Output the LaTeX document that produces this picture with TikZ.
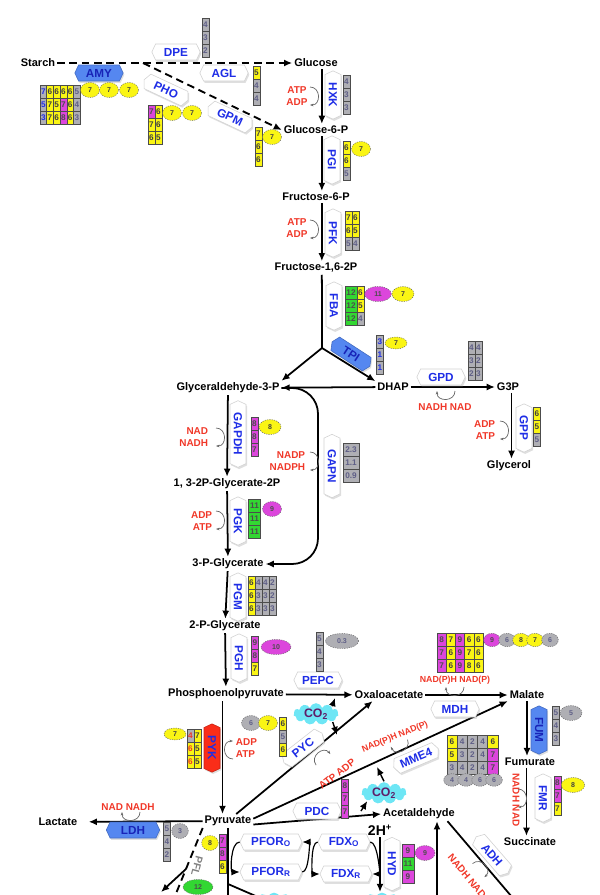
\documentclass[tikz,border=0pt]{standalone}
\usepackage{fontspec}
\setmainfont{Liberation Sans}
\usetikzlibrary{shapes.symbols,shapes.geometric,shadows,calc,arrows.meta}

\definecolor{enzblue}{RGB}{30,45,230}
\definecolor{cofred}{RGB}{240,55,40}
\definecolor{celly}{RGB}{250,245,20}
\definecolor{cellg}{RGB}{175,175,180}
\definecolor{cellm}{RGB}{220,70,220}
\definecolor{celln}{RGB}{50,215,50}
\definecolor{gtxt}{RGB}{95,95,135}
\definecolor{amyblue}{RGB}{85,135,240}
\definecolor{pykred}{RGB}{250,45,25}
\definecolor{co2cyan}{RGB}{110,230,245}
\definecolor{co2txt}{RGB}{95,30,105}

\newcommand{\numtab}[5]{%
	\foreach \rw [count=\ri] in {#5}
		\foreach \cv/\ct [count=\ci] in \rw
			\node[cell, \cv, minimum width=#4*0.03cm] (#1-\ri-\ci) at ({#2+(\ci-1)*#4}, {#3+(\ri-1)*13}) {\ct};
}

\begin{document}
\begin{tikzpicture}[x=0.03cm, y=-0.03cm, every node/.style={font=\bfseries}, line width=1.5pt, >={Latex[length=7pt,width=6pt]}]
	\tikzstyle{met} = [font=\bfseries\fontsize{9.4}{11}\selectfont, inner sep=1pt]
	\tikzstyle{enz} = [signal, signal to=east and west, signal pointer angle=130, draw=gray!35, line width=0.5pt, fill=white, drop shadow={opacity=0.25, shadow xshift=1pt, shadow yshift=-1.5pt}, text=enzblue, font=\bfseries\fontsize{10}{10}\selectfont, minimum width=1.45cm, minimum height=0.48cm, inner sep=1pt]
	\tikzstyle{enzb} = [fill=amyblue, draw=amyblue!80!black, text=enzblue!80!black]
	\tikzstyle{enzr} = [fill=pykred, draw=pykred!80!black, text=enzblue]
	\tikzstyle{cof} = [text=cofred, font=\bfseries\fontsize{8.5}{10}\selectfont, align=center, inner sep=0pt]
	\tikzstyle{cell} = [rectangle, draw=black!70, line width=0.4pt, minimum height=0.39cm, inner sep=0pt, font=\bfseries\fontsize{7}{7}\selectfont]
	\tikzstyle{cyel} = [fill=celly, text=black!75]
	\tikzstyle{cgry} = [fill=cellg, text=gtxt]
	\tikzstyle{cmag} = [fill=cellm, text=black!70]
	\tikzstyle{cgrn} = [fill=celln, text=black!70]
	\tikzstyle{cgbl} = [fill=cellg, text=enzblue]
	\tikzstyle{cgrd} = [fill=cellg, text=cofred]
	\tikzstyle{cyrd} = [fill=celly, text=cofred]
	\tikzstyle{ell} = [ellipse, draw=black!60, line width=0.4pt, dash pattern=on 1pt off 1pt, minimum width=0.57cm, minimum height=0.45cm, inner sep=0pt, font=\bfseries\fontsize{6}{6}\selectfont]
	\tikzstyle{co2} = [cloud, cloud puffs=11, aspect=2.3, fill=co2cyan, text=co2txt, font=\bfseries\fontsize{10.5}{10.5}\selectfont, inner sep=0pt, minimum width=1.35cm, minimum height=0.62cm]
	\tikzstyle{rxn} = [->, line width=1.5pt]
	\tikzstyle{dsh} = [->, line width=1.6pt, dash pattern=on 6.5pt off 4pt]
	\tikzstyle{sarr} = [->, line width=1.2pt]
	\tikzstyle{curlarr} = [->, line width=1pt]
	\tikzset{curl/.pic={\draw[gray!80!black, line width=0.6pt, -{Stealth[length=3pt]}] (-2,-9) .. controls (9,-9) and (9,9) .. (-2,9);}}

	\useasboundingbox (0,0) rectangle (600,895);
	\clip (0,0) rectangle (600,895);

	% metabolites
	\node[met] (starch) at (38,63) {Starch};
	\node[met] (glc) at (316,63) {Glucose};
	\node[met] (g6p) at (316,130) {Glucose-6-P};
	\node[met] (f6p) at (316,197) {Fructose-6-P};
	\node[met] (fbp) at (316,268) {Fructose-1,6-2P};
	\node[met] (gap) at (228,388) {Glyceraldehyde-3-P};
	\node[met] (dhap) at (393,387) {DHAP};
	\node[met] (g3p) at (508,387) {G3P};
	\node[met] (glyc) at (509,466) {Glycerol};
	\node[met] (bpg) at (227,484) {1, 3-2P-Glycerate-2P};
	\node[met] (pg3) at (228,564) {3-P-Glycerate};
	\node[met] (pg2) at (225,626) {2-P-Glycerate};
	\node[met] (pep) at (226,694) {Phosphoenolpyruvate};
	\node[met] (oaa) at (389,695) {Oxaloacetate};
	\node[met] (mal) at (527,695) {Malate};
	\node[met] (fum) at (530,762) {Fumurate};
	\node[met] (suc) at (530,842) {Succinate};
	\node[met] (pyr) at (228,821) {Pyruvate};
	\node[met] (lac) at (58,822) {Lactate};
	\node[met] (acald) at (419,814) {Acetaldehyde};
	\node[met, font=\bfseries\fontsize{12}{12}\selectfont] (htwo) at (380,830) {2H\textsuperscript{+}};

	\coordinate (brk) at (143,63);
	\coordinate (fbaj) at (322,348);
	\coordinate (gapnc) at (318,480);
	\coordinate (pepcl) at (335,698);
	\coordinate (pycl) at (337,735);
	\coordinate (mmel) at (377,767);
	\coordinate (pdcl) at (361,811);
	\coordinate (pyrend) at (228,896);
	\coordinate (pyrb) at (228,884);
	\coordinate (pyrc) at (258,897);
	\coordinate (hydend) at (380,892);
	\coordinate (acin) at (437,896);
	\coordinate (adhend) at (512,897);
	\coordinate (pflend) at (175,896);
	\coordinate (pflm) at (186,869);
	\coordinate (pflt) at (161,892);

	% reactions
	\draw[dsh] (starch) -- (glc);
	\draw[dsh] (brk) -- (g6p.west);
	\draw[rxn] ([xshift=5pt]glc.south) -- ([xshift=5pt]g6p.north);
	\draw[rxn] ([xshift=5pt]g6p.south) -- ([xshift=5pt]f6p.north);
	\draw[rxn] ([xshift=5pt]f6p.south) -- ([xshift=5pt]fbp.north);
	\draw ([xshift=5pt]fbp.south) -- (fbaj);
	\draw[rxn] (fbaj) -- (gap.north east);
	\draw[rxn] (fbaj) -- (dhap.north west);
	\draw[rxn] (dhap) -- (gap);
	\draw[rxn] (dhap) -- (g3p);
	\draw[rxn] ([xshift=3pt]g3p.south) -- ([xshift=3pt]g3p.south |- glyc.north);
	\draw[rxn] (gap) -- (bpg);
	\draw[rxn, rounded corners=22pt] (gap.east) -| (gapnc) |- (pg3.east);
	\draw[rxn] (bpg) -- (pg3);
	\draw[rxn] (pg3) -- (pg2);
	\draw[rxn] (pg2) -- (pep);
	\draw[rxn] (pep) -- (oaa);
	\draw[rxn] (oaa) -- (mal);
	\draw[rxn] ([xshift=-3pt]pep.south) -- ([xshift=-3pt]pep.south |- pyr.north);
	\draw[rxn] ([xshift=7pt]pyr.north) -- ([xshift=-14pt]oaa.south);
	\draw[rxn] ([yshift=2pt]pyr.east) -- (mal.south west);
	\draw[rxn] ([yshift=-3pt]pyr.east) -- (acald.west);
	\draw[rxn, shorten >=8pt] (pyr) -- (lac);
	\draw[dsh, -] (pyr.south west) -- (pflend);
	\draw[rxn] (pflm) -- (pflt);
	\draw (pyr.south) -- (pyrend);
	\draw (pyrb) -- (pyrc);
	\draw[rxn] (htwo) -- (hydend);
	\draw[rxn] (acin) -- (acin |- acald.south);
	\draw ([xshift=-8pt]acald.south east) -- (adhend);
	\draw[rxn] (mal.south) -- (mal.south |- fum.north);
	\draw[rxn] ([xshift=-3pt]fum.south) -- ([xshift=-3pt]suc.north);

	\node[co2] (co2a) at (316,714) {CO\textsubscript{2}};
	\node[co2] (co2b) at (384,793) {CO\textsubscript{2}};
	\node[co2] (co2c) at (274,903) {};
	\node[co2] (htwoc) at (382,903) {};
	\draw[sarr] (co2a.north east) -- (pepcl);
	\draw[sarr] (co2a.south east) -- (pycl);
	\draw[sarr] (co2b.north) -- (mmel);
	\draw[sarr] (pdcl) -- (co2b.south west);

	% enzymes
	\node[enz] (dpe) at (176,52) {DPE};
	\node[enz, enzb] (amy) at (99,73) {AMY};
	\node[enz] (agl) at (224,73) {AGL};
	\node[enz, rotate=-25] (pho) at (166,90) {PHO};
	\node[enz, rotate=-25] (gpm) at (230,117) {GPM};
	\node[enz, rotate=-90] (hxk) at (333,95) {HXK};
	\node[enz, rotate=-90] (pgi) at (332,160) {PGI};
	\node[enz, rotate=-90] (pfk) at (333,233) {PFK};
	\node[enz, rotate=-90] (fba) at (334,306) {FBA};
	\node[enz, enzb, rotate=-33, minimum width=1.35cm] (tpi) at (351,354) {TPI};
	\node[enz] (gpd) at (441,377) {GPD};
	\node[enz, rotate=-90] (gpp) at (524,428) {GPP};
	\node[enz, rotate=-90, minimum width=2cm] (gapdh) at (238,434) {GAPDH};
	\node[enz, rotate=-90, minimum width=1.9cm] (gapn) at (332,466) {GAPN};
	\node[enz, rotate=-90] (pgk) at (238,521) {PGK};
	\node[enz, rotate=-90] (pgm) at (238,597) {PGM};
	\node[enz, rotate=-90] (pgh) at (239,658) {PGH};
	\node[enz] (pepc) at (318,680) {PEPC};
	\node[enz] (mdh) at (455,709) {MDH};
	\node[enz, enzb, rotate=-90] (fumz) at (539,730) {FUM};
	\node[enz, enzr, rotate=-90] (pyk) at (212,748) {PYK};
	\node[enz, rotate=38] (pyc) at (303,748) {PYC};
	\node[enz, rotate=23] (mme) at (416,758) {MME4};
	\node[enz] (pdc) at (317,811) {PDC};
	\node[enz, enzb, minimum width=1.6cm] (ldh) at (133,830) {LDH};
	\node[enz, minimum width=1.86cm] (pforo) at (271,842) {PFOR\textsubscript{O}};
	\node[enz, minimum width=1.86cm] (pforr) at (271,872) {PFOR\textsubscript{R}};
	\node[enz, minimum width=1.56cm] (fdxo) at (344,842) {FDX\textsubscript{O}};
	\node[enz, minimum width=1.56cm] (fdxr) at (346,874) {FDX\textsubscript{R}};
	\node[enz, rotate=-90, minimum width=1.6cm] (hyd) at (392,864) {HYD};
	\node[enz, rotate=-49] (adh) at (492,855) {ADH};
	\node[enz, rotate=-90] (fmr) at (543,798) {FMR};
	\node[text=gray, font=\bfseries\fontsize{9}{9}\selectfont, rotate=-105] (pfl) at (197,866) {PFL};

	\draw[curlarr] (pforo.west) to[out=180, in=180, looseness=0.8] (pforr.west);
	\draw[curlarr] (pforr.east) to[out=0, in=0, looseness=0.6] (pforo.east);
	\draw[curlarr] (fdxo.west) to[out=180, in=180, looseness=0.6] (fdxr.west);
	\draw[curlarr] (fdxo.east) to[out=0, in=0, looseness=0.6] (fdxr.east);

	% cofactors
	\node[cof] (hxkc) at (297,96) {ATP\\ADP};
	\node[cof] (pfkc) at (297,228) {ATP\\ADP};
	\node[cof, align=right, anchor=east] (gapdhc) at (209,437) {NAD\\NADH};
	\node[cof, align=right, anchor=east] (gapnk) at (306,461) {NADP\\NADPH};
	\node[cof, align=right, anchor=east] (pgkc) at (213,521) {ADP\\ATP};
	\node[cof, align=right, anchor=east] (gppc) at (496,430) {ADP\\ATP};
	\node[cof] (gpdc) at (445,407) {NADH NAD};
	\node[cof, align=left, anchor=west] (pykc) at (235,748) {ADP\\ATP};
	\node[cof, rotate=38] (pycc) at (337,774) {ATP ADP};
	\node[cof, font=\bfseries\fontsize{7.5}{8}\selectfont] (mdhc) at (455,680) {NAD(P)H NAD(P)};
	\node[cof, font=\bfseries\fontsize{7.5}{8}\selectfont, rotate=22] (mmec) at (395,737) {NAD(P)H NAD(P)};
	\node[cof] (ldhc) at (128,807) {NAD NADH};
	\node[cof, rotate=-90] (fmrc) at (516,800) {NADH NAD};
	\node[cof, rotate=-50] (adhc) at (467,876) {NADH NAD};

	\pic at (312,96) {curl};
	\pic at (312,229) {curl};
	\pic at (218,437) {curl};
	\pic at (312,461) {curl};
	\pic at (218,520) {curl};
	\pic at (502,430) {curl};
	\pic[rotate=-90] at (446,393) {curl};
	\pic[rotate=180] at (231,750) {curl};
	\pic[rotate=128] at (322,758) {curl};
	\pic[rotate=-67] at (400,745) {curl};
	\pic[rotate=-90] at (455,689) {curl};
	\pic[rotate=-90] at (131,814) {curl};
	\pic at (520,798) {curl};
	\pic[rotate=41] at (480,869) {curl};

	% gene tables
	\numtab{dpet}{205.5}{25}{7}{cgry/4,cgry/3,cgry/2}
	\numtab{amyt}{43.3}{91.3}{6.7}{{cgbl/7,cyel/6,cyel/6,cyel/6,cyel/6,cgry/5},{cgbl/5,cyel/7,cyel/5,cmag/7,cyel/6,cgry/4},{cgbl/3,cyel/7,cyel/6,cmag/8,cyel/6,cgry/3}}
	\numtab{phot}{151.5}{112}{7}{{cmag/7,cyel/6},{cyel/7,cyel/6},{cyel/6,cyel/5}}
	\numtab{aglt}{256.5}{73}{7}{cyel/5,cgry/4,cgry/4}
	\numtab{gpmt}{258.5}{134}{7}{cyel/7,cyel/6,cyel/6}
	\numtab{hxkt}{346.5}{81.5}{7}{cgry/4,cgry/3,cgry/3}
	\numtab{pgit}{346.5}{148}{7}{cyel/6,cyel/6,cgry/5}
	\numtab{pfkt}{348.5}{218}{7}{{cyel/7,cyel/6},{cyel/6,cyel/5},{cgry/5,cgry/4}}
	\numtab{fbat}{351}{293}{12}{cgrn/12,cgrn/12,cgrn/12}
	\numtab{fbau}{360.5}{293}{7}{cyel/6,cyel/5,cgry/4}
	\numtab{tpit}{380}{342}{7}{cgbl/3,cgbl/1,cgbl/1}
	\numtab{gpdt}{471.5}{348}{7}{{cgry/4,cgry/4},{cgry/3,cgry/2},{cgry/2,cgry/3}}
	\numtab{gppt}{537}{414}{7}{cyel/6,cyel/5,cgry/5}
	\numtab{gapdht}{254.5}{424}{7}{cmag/8,cmag/8,cmag/7}
	\numtab{gapnt}{351}{450}{16}{cgry/2.3,cgry/1.1,cgry/0.9}
	\numtab{pgkt}{254.5}{506}{12}{cgrn/11,cgrn/11,cgrn/11}
	\numtab{pgmt}{251.5}{583}{7}{{cyel/6,cgry/4,cgry/4,cgry/2},{cyel/6,cgry/3,cgry/3,cgry/2},{cyel/6,cgry/3,cgry/3,cgry/3}}
	\numtab{pght}{255}{643}{7}{cmag/9,cmag/8,cyel/7}
	\numtab{pepct}{319.5}{639}{7}{cgry/5,cgry/4,cgry/3}
	\numtab{mdht}{441.6}{640}{9.2}{{cmag/8,cyel/7,cmag/9,cyel/6,cyel/6},{cmag/7,cyel/6,cmag/9,cyel/7,cyel/6},{cmag/7,cyel/6,cmag/9,cyel/8,cyel/6}}
	\numtab{fumt}{556}{713}{7}{cgry/5,cgry/4,cgry/3}
	\numtab{pykt}{190.5}{736}{7}{{cgrd/4,cyel/7},{cyrd/6,cyel/5},{cyrd/6,cyel/5}}
	\numtab{pyct}{283}{724}{7}{cyel/6,cgry/5,cyel/6}
	\numtab{mmet}{452}{741.5}{10.2}{{cyel/6,cgry/4,cgry/2,cgry/4,cyel/6},{cyel/5,cgry/3,cgry/2,cgry/4,cmag/7},{cgry/3,cgry/4,cgry/2,cgry/4,cmag/7}}
	\numtab{pdct}{345}{786}{7}{cmag/8,cmag/7,cmag/7}
	\numtab{fmrt}{557.5}{783}{7}{cmag/8,cmag/7,cyel/7}
	\numtab{ldht}{167}{829}{7}{cgry/5,cgry/4,cgry/2}
	\numtab{pfort}{222.5}{841}{7}{cmag/7,cmag/8,cyel/6}
	\numtab{hydt}{408}{851}{12}{cmag/9,cgrn/11,cmag/9}

	% protein counts
	\node[ell, cyel] (amye1) at (90,90) {7};
	\node[ell, cyel] (amye2) at (109,90) {7};
	\node[ell, cyel] (amye3) at (129,90) {7};
	\node[ell, cyel] (phoe1) at (172,113) {7};
	\node[ell, cyel] (phoe2) at (192,113) {7};
	\node[ell, cyel] (gpme) at (272,137) {7};
	\node[ell, cyel] (pgie) at (361,149) {7};
	\node[ell, cmag, minimum width=0.8cm] (fbae1) at (378,294) {11};
	\node[ell, cyel, minimum width=0.66cm] (fbae2) at (403,294) {7};
	\node[ell, cyel, minimum width=0.66cm, minimum height=0.36cm] (tpie) at (396,343) {7};
	\node[ell, cyel, minimum width=0.66cm] (gapdhe) at (270,427) {8};
	\node[ell, cmag] (pgke) at (272,509) {9};
	\node[ell, cmag, minimum width=0.9cm] (pghe) at (276,647) {10};
	\node[ell, cgry, minimum width=1cm] (pepce) at (342,641) {0.3};
	\node[ell, cmag, minimum width=0.5cm, minimum height=0.4cm] (mdhe1) at (492,640) {9};
	\node[ell, cgry, minimum width=0.5cm, minimum height=0.4cm] (mdhe2) at (507,640) {6};
	\node[ell, cyel, minimum width=0.5cm, minimum height=0.4cm] (mdhe3) at (521,640) {8};
	\node[ell, cyel, minimum width=0.5cm, minimum height=0.4cm] (mdhe4) at (535,640) {7};
	\node[ell, cgry, minimum width=0.5cm, minimum height=0.4cm] (mdhe5) at (550,640) {6};
	\node[ell, cgry, minimum width=0.66cm] (fume) at (571,713) {5};
	\node[ell, cyel, minimum width=0.66cm, minimum height=0.36cm] (pyke) at (175,734) {7};
	\node[ell, cgry] (pyce1) at (251,723) {6};
	\node[ell, cyel] (pyce2) at (268,723) {7};
	\node[ell, cgry, minimum width=0.5cm, minimum height=0.38cm] (mmee1) at (452,780) {4};
	\node[ell, cgry, minimum width=0.5cm, minimum height=0.38cm] (mmee2) at (466,780) {4};
	\node[ell, cgry, minimum width=0.5cm, minimum height=0.38cm] (mmee3) at (480,780) {6};
	\node[ell, cgry, minimum width=0.5cm, minimum height=0.38cm] (mmee4) at (494,780) {6};
	\node[ell, cyel, minimum width=0.7cm] (fmre) at (573,785) {8};
	\node[ell, cgry, minimum width=0.5cm] (ldhe) at (180,831) {3};
	\node[ell, cyel, minimum width=0.5cm] (pfore) at (210,843) {8};
	\node[ell, cmag, minimum width=0.6cm] (hyde) at (425,853) {9};
	\node[ell, cgrn, minimum width=0.9cm] (pfle) at (198,887) {12};
\end{tikzpicture}
\end{document}
